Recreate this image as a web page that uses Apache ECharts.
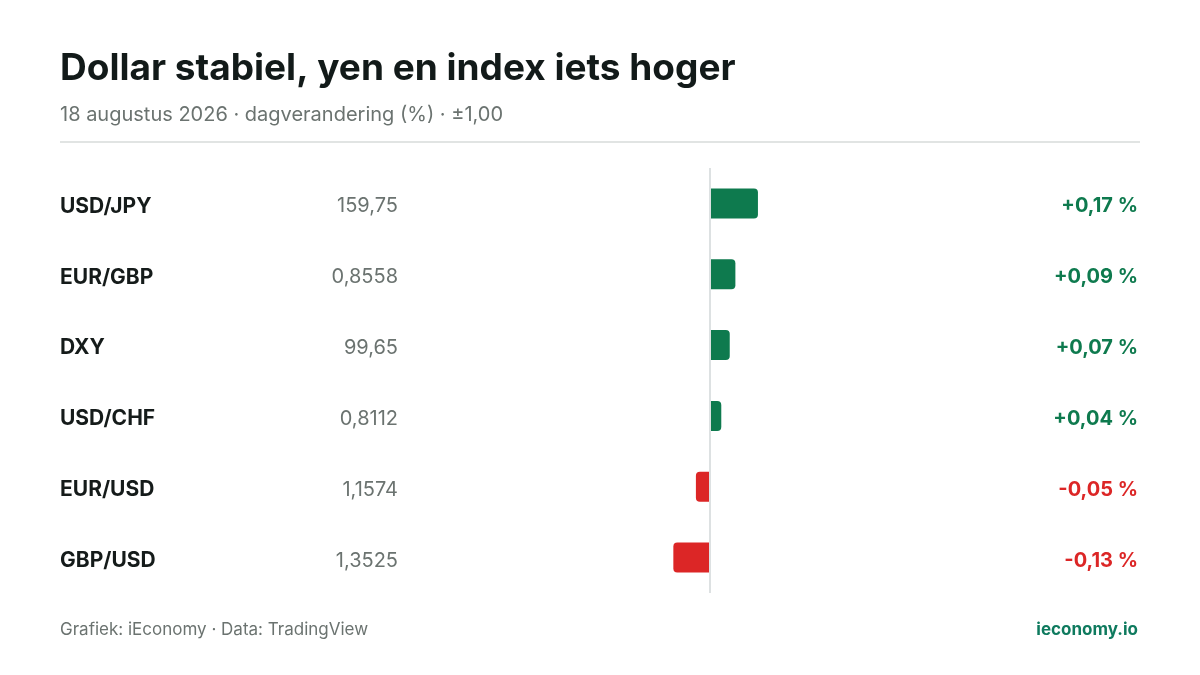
<!DOCTYPE html>
<html>
<head>
<meta charset="utf-8">
<script src="https://cdn.jsdelivr.net/npm/echarts@6/dist/echarts.min.js"></script>
<style>
  html, body { margin: 0; padding: 0; background: #fff; }
  #chart { width: 1200px; height: 675px; }
</style>
</head>
<body>
<div id="chart"></div>
<script>
var pairs = ['USD/JPY', 'EUR/GBP', 'DXY', 'USD/CHF', 'EUR/USD', 'GBP/USD'];
var quotes = ['159,75', '0,8558', '99,65', '0,8112', '1,1574', '1,3525'];
var changes = [0.17, 0.09, 0.07, 0.04, -0.05, -0.13];

var green = '#0e7a4e';
var red = '#dc2626';

function pct(v) {
    var s = Math.abs(v).toFixed(2).replace('.', ',');
    return (v >= 0 ? '+' : '-') + s + ' %';
}

var myChart = echarts.init(document.getElementById('chart'));
var option = {
    backgroundColor: '#fff',
    textStyle: { fontFamily: 'Inter' },
    title: [{
        text: 'Dollar stabiel, yen en index iets hoger',
        subtext: '18 augustus 2026 · dagverandering (%) · ±1,00',
        left: 55,
        top: 45,
        itemGap: 18,
        textStyle: { fontSize: 37, fontWeight: 'bold', color: '#121a19', fontFamily: 'Inter' },
        subtextStyle: { fontSize: 20, color: '#6b7370', fontFamily: 'Inter' }
    }, {
        text: 'Grafiek: iEconomy · Data: TradingView',
        left: 55,
        top: 616,
        textStyle: { fontSize: 17, fontWeight: 'normal', color: '#6b7370', fontFamily: 'Inter' }
    }, {
        text: 'ieconomy.io',
        right: 57,
        top: 616,
        textStyle: { fontSize: 17, fontWeight: 'bold', color: '#0e7a5e', fontFamily: 'Inter' }
    }],
    graphic: [{
        type: 'line',
        shape: { x1: 60, y1: 142, x2: 1140, y2: 142 },
        style: { stroke: '#e1e4e3', lineWidth: 2 },
        silent: true
    }],
    grid: { left: 428, right: 208, top: 168, bottom: 82 },
    xAxis: {
        type: 'value',
        min: -1,
        max: 1,
        show: false
    },
    yAxis: [{
        type: 'category',
        data: pairs,
        inverse: true,
        position: 'left',
        axisLine: { show: false, onZero: false },
        axisTick: { show: false },
        axisLabel: {
            margin: 368,
            align: 'left',
            padding: [6, 0, 0, 0],
            formatter: function (v, i) {
                return '{n|' + v + '}{v|' + quotes[i] + '}';
            },
            rich: {
                n: { width: 250, align: 'left', fontSize: 21, fontWeight: 'bold', color: '#151b1a', fontFamily: 'Inter' },
                v: { width: 88, align: 'right', fontSize: 20, color: '#6b7370', fontFamily: 'Inter' }
            }
        }
    }, {
        type: 'category',
        data: pairs,
        inverse: true,
        position: 'right',
        axisLine: { show: false, onZero: false },
        axisTick: { show: false },
        axisLabel: {
            margin: 146,
            align: 'right',
            padding: [6, 0, 0, 0],
            formatter: function (v, i) {
                return changes[i] >= 0 ? '{p|' + pct(changes[i]) + '}' : '{m|' + pct(changes[i]) + '}';
            },
            rich: {
                p: { fontSize: 20, fontWeight: 'bold', color: green, fontFamily: 'Inter' },
                m: { fontSize: 20, fontWeight: 'bold', color: red, fontFamily: 'Inter' }
            }
        }
    }],
    series: [{
        type: 'bar',
        barWidth: 30,
        data: changes.map(function (v) {
            return {
                value: v,
                itemStyle: {
                    color: v >= 0 ? green : red,
                    borderRadius: v >= 0 ? [0, 4, 4, 0] : [4, 0, 0, 4]
                }
            };
        }),
        markLine: {
            silent: true,
            symbol: 'none',
            label: { show: false },
            lineStyle: { color: '#dde1e2', width: 2, type: 'solid' },
            data: [{ xAxis: 0 }]
        },
        z: 3
    }]
};

myChart.setOption(option);

window.onresize = function () {
    myChart.resize();
};
</script>
</body>
</html>
